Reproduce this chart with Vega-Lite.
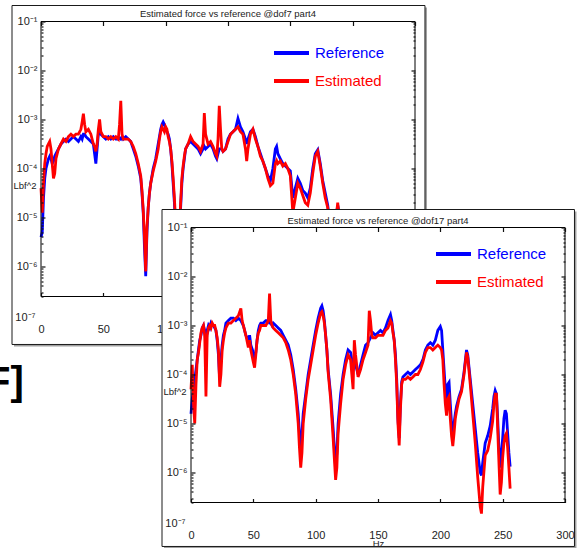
{
"$schema": "https://vega.github.io/schema/vega-lite/v6.json",
"padding": {"left": -14, "top": 4.5, "right": 0, "bottom": 0},
"autosize": {"type": "pad"},
"background": "white",
"datasets": {
"c1": [
{"f":0,"r":0.398e-5,"e":0.398e-4},{"f":1,"r":0.501e-5,"e":0.126e-4},{"f":2,"r":0.251e-4,"e":0.501e-4},{"f":3,"r":0.631e-4,"e":0.126e-3},{"f":4,"r":1e-4,"e":0.2e-3},{"f":5,"r":0.126e-3,"e":0.282e-3},{"f":6,"r":0.158e-3,"e":0.316e-3},{"f":7,"r":0.178e-3,"e":0.355e-3},{"f":8,"r":0.158e-3,"e":0.251e-3},{"f":9,"r":0.126e-3,"e":0.126e-3},{"f":10,"r":0.141e-3,"e":0.631e-4},{"f":11,"r":0.178e-3,"e":0.794e-4},{"f":12,"r":0.2e-3,"e":0.158e-3},{"f":14,"r":0.251e-3,"e":0.251e-3},{"f":16,"r":0.316e-3,"e":0.316e-3},{"f":18,"r":0.355e-3,"e":0.398e-3},{"f":20,"r":0.398e-3,"e":0.355e-3},{"f":22,"r":0.355e-3,"e":0.447e-3},{"f":24,"r":0.398e-3,"e":0.501e-3},{"f":26,"r":0.447e-3,"e":0.447e-3},{"f":28,"r":0.398e-3,"e":0.501e-3},{"f":30,"r":0.355e-3,"e":0.501e-3},{"f":32,"r":0.447e-3,"e":0.631e-3},{"f":33,"r":0.398e-3,"e":0.891e-3},{"f":34,"r":0.501e-3,"e":0.132e-2},{"f":35,"r":0.501e-3,"e":0.794e-3},{"f":36,"r":0.447e-3,"e":0.562e-3},{"f":38,"r":0.398e-3,"e":0.631e-3},{"f":40,"r":0.355e-3,"e":0.501e-3},{"f":42,"r":0.316e-3,"e":0.316e-3},{"f":43,"r":0.2e-3,"e":0.282e-3},{"f":44,"r":0.126e-3,"e":0.224e-3},{"f":45,"r":0.251e-3,"e":0.316e-3},{"f":46,"r":0.501e-3,"e":0.631e-3},{"f":47,"r":0.631e-3,"e":1e-3},{"f":48,"r":0.501e-3,"e":0.562e-3},{"f":50,"r":0.447e-3,"e":0.447e-3},{"f":52,"r":0.398e-3,"e":0.447e-3},{"f":54,"r":0.447e-3,"e":0.398e-3},{"f":56,"r":0.398e-3,"e":0.447e-3},{"f":58,"r":0.447e-3,"e":0.398e-3},{"f":60,"r":0.398e-3,"e":0.447e-3},{"f":62,"r":0.398e-3,"e":0.398e-3},{"f":63,"r":0.417e-3,"e":0.794e-3},{"f":64,"r":0.398e-3,"e":0.24e-2},{"f":65,"r":0.447e-3,"e":0.501e-3},{"f":66,"r":0.398e-3,"e":0.398e-3},{"f":68,"r":0.447e-3,"e":0.398e-3},{"f":70,"r":0.398e-3,"e":0.398e-3},{"f":72,"r":0.355e-3,"e":0.355e-3},{"f":74,"r":0.251e-3,"e":0.282e-3},{"f":76,"r":0.178e-3,"e":0.2e-3},{"f":78,"r":0.112e-3,"e":0.126e-3},{"f":80,"r":0.631e-4,"e":0.708e-4},{"f":81,"r":0.316e-4,"e":0.355e-4},{"f":82,"r":0.126e-4,"e":0.141e-4},{"f":83,"r":0.251e-5,"e":0.398e-5},{"f":84,"r":0.631e-6,"e":0.794e-6},{"f":85,"r":0.501e-5,"e":0.631e-5},{"f":86,"r":0.158e-4,"e":0.158e-4},{"f":87,"r":0.316e-4,"e":0.316e-4},{"f":88,"r":0.501e-4,"e":0.501e-4},{"f":90,"r":1e-4,"e":0.891e-4},{"f":92,"r":0.158e-3,"e":0.141e-3},{"f":94,"r":0.316e-3,"e":0.251e-3},{"f":95,"r":0.447e-3,"e":0.398e-3},{"f":96,"r":0.631e-3,"e":0.562e-3},{"f":97,"r":0.794e-3,"e":0.708e-3},{"f":98,"r":0.891e-3,"e":0.631e-3},{"f":99,"r":0.794e-3,"e":0.562e-3},{"f":100,"r":0.631e-3,"e":0.708e-3},{"f":101,"r":0.562e-3,"e":0.631e-3},{"f":102,"r":0.501e-3,"e":0.447e-3},{"f":103,"r":0.398e-3,"e":0.355e-3},{"f":104,"r":0.251e-3,"e":0.251e-3},{"f":105,"r":0.126e-3,"e":0.141e-3},{"f":106,"r":0.501e-4,"e":0.631e-4},{"f":107,"r":0.2e-4,"e":0.251e-4},{"f":108,"r":0.631e-5,"e":0.794e-5},{"f":109,"r":0.2e-5,"e":0.251e-5},{"f":110,"r":1e-6,"e":0.126e-5},{"f":111,"r":0.398e-5,"e":0.501e-5},{"f":112,"r":0.158e-4,"e":0.2e-4},{"f":113,"r":0.501e-4,"e":0.631e-4},{"f":114,"r":1e-4,"e":0.112e-3},{"f":115,"r":0.158e-3,"e":0.178e-3},{"f":116,"r":0.251e-3,"e":0.251e-3},{"f":118,"r":0.316e-3,"e":0.316e-3},{"f":120,"r":0.355e-3,"e":0.447e-3},{"f":122,"r":0.316e-3,"e":0.355e-3},{"f":124,"r":0.282e-3,"e":0.316e-3},{"f":126,"r":0.251e-3,"e":0.282e-3},{"f":128,"r":0.2e-3,"e":0.224e-3},{"f":130,"r":0.251e-3,"e":0.316e-3},{"f":131,"r":0.282e-3,"e":0.135e-2},{"f":132,"r":0.251e-3,"e":0.501e-3},{"f":134,"r":0.282e-3,"e":0.316e-3},{"f":136,"r":0.316e-3,"e":0.355e-3},{"f":138,"r":0.251e-3,"e":0.282e-3},{"f":140,"r":0.178e-3,"e":0.2e-3},{"f":141,"r":0.158e-3,"e":0.178e-3},{"f":142,"r":0.2e-3,"e":0.398e-3},{"f":143,"r":0.251e-3,"e":0.191e-2},{"f":144,"r":0.251e-3,"e":0.631e-3},{"f":145,"r":0.251e-3,"e":0.251e-3},{"f":146,"r":0.224e-3,"e":0.224e-3},{"f":148,"r":0.251e-3,"e":0.251e-3},{"f":150,"r":0.398e-3,"e":0.355e-3},{"f":152,"r":0.501e-3,"e":0.501e-3},{"f":154,"r":0.562e-3,"e":0.562e-3},{"f":156,"r":0.631e-3,"e":0.631e-3},{"f":158,"r":0.105e-2,"e":0.708e-3},{"f":160,"r":0.708e-3,"e":0.562e-3},{"f":162,"r":0.562e-3,"e":0.501e-3},{"f":164,"r":0.398e-3,"e":0.251e-3},{"f":165,"r":0.316e-3,"e":0.141e-3},{"f":166,"r":0.398e-3,"e":0.251e-3},{"f":168,"r":0.562e-3,"e":0.501e-3},{"f":170,"r":0.631e-3,"e":0.631e-3},{"f":172,"r":0.447e-3,"e":0.398e-3},{"f":174,"r":0.282e-3,"e":0.282e-3},{"f":176,"r":0.2e-3,"e":0.178e-3},{"f":178,"r":0.141e-3,"e":0.141e-3},{"f":180,"r":1e-4,"e":1e-4},{"f":182,"r":0.708e-4,"e":0.631e-4},{"f":184,"r":0.562e-4,"e":0.447e-4},{"f":186,"r":1e-4,"e":0.501e-4},{"f":188,"r":0.251e-3,"e":0.126e-3},{"f":189,"r":0.282e-3,"e":0.145e-3},{"f":190,"r":0.2e-3,"e":0.126e-3},{"f":192,"r":0.158e-3,"e":0.141e-3},{"f":194,"r":0.126e-3,"e":0.112e-3},{"f":196,"r":0.112e-3,"e":0.126e-3},{"f":198,"r":1e-4,"e":1e-4},{"f":200,"r":0.891e-4,"e":0.708e-4},{"f":202,"r":0.251e-4,"e":0.126e-4},{"f":204,"r":0.398e-4,"e":0.251e-4},{"f":206,"r":0.631e-4,"e":0.501e-4},{"f":208,"r":0.501e-4,"e":0.398e-4},{"f":210,"r":0.355e-4,"e":0.282e-4},{"f":212,"r":0.316e-4,"e":0.2e-4},{"f":214,"r":0.251e-4,"e":0.178e-4},{"f":216,"r":0.398e-4,"e":0.316e-4},{"f":218,"r":1e-4,"e":0.794e-4},{"f":220,"r":0.2e-3,"e":0.178e-3},{"f":222,"r":0.24e-3,"e":0.224e-3},{"f":224,"r":0.126e-3,"e":0.112e-3},{"f":226,"r":0.562e-4,"e":0.501e-4},{"f":228,"r":0.316e-4,"e":0.251e-4},{"f":230,"r":0.178e-4,"e":0.158e-4},{"f":232,"r":0.631e-5,"e":0.501e-5},{"f":234,"r":0.316e-5,"e":0.251e-5},{"f":236,"r":0.794e-5,"e":0.631e-5},{"f":238,"r":0.178e-4,"e":0.2e-4},{"f":240,"r":1e-5,"e":0.631e-5},{"f":242,"r":0.501e-5,"e":0.316e-5},{"f":244,"r":0.251e-5,"e":0.158e-5},{"f":246,"r":0.501e-5,"e":0.316e-5},{"f":248,"r":0.316e-5,"e":0.158e-5},{"f":250,"r":0.501e-5,"e":0.251e-5},{"f":252,"r":0.398e-5,"e":0.251e-5},{"f":254,"r":0.251e-5,"e":0.126e-5},{"f":256,"r":0.2e-5,"e":1e-6}
],
"c2": [
{"f":0,"r":0.158e-4,"e":0.501e-4},{"f":1,"r":0.316e-4,"e":0.158e-3},{"f":2,"r":0.501e-4,"e":0.251e-4},{"f":3,"r":0.794e-4,"e":1e-5},{"f":4,"r":0.126e-3,"e":0.631e-4},{"f":5,"r":0.2e-3,"e":0.2e-3},{"f":6,"r":0.316e-3,"e":0.282e-3},{"f":7,"r":0.501e-3,"e":0.447e-3},{"f":8,"r":0.631e-3,"e":0.708e-3},{"f":9,"r":0.891e-3,"e":0.891e-3},{"f":10,"r":1e-3,"e":1e-3},{"f":11,"r":0.794e-3,"e":0.631e-3},{"f":12,"r":0.398e-3,"e":0.355e-4},{"f":13,"r":0.794e-3,"e":0.631e-3},{"f":14,"r":1e-3,"e":0.891e-3},{"f":15,"r":0.891e-3,"e":1e-3},{"f":16,"r":0.112e-2,"e":0.891e-3},{"f":17,"r":1e-3,"e":0.112e-2},{"f":18,"r":1e-3,"e":1e-3},{"f":19,"r":0.891e-3,"e":1e-3},{"f":20,"r":0.794e-3,"e":0.794e-3},{"f":21,"r":0.501e-3,"e":0.562e-3},{"f":22,"r":0.251e-3,"e":0.316e-3},{"f":23,"r":0.794e-4,"e":0.562e-4},{"f":24,"r":0.2e-3,"e":1e-4},{"f":25,"r":0.398e-3,"e":0.316e-3},{"f":26,"r":0.631e-3,"e":0.501e-3},{"f":27,"r":0.794e-3,"e":0.708e-3},{"f":28,"r":0.112e-2,"e":0.891e-3},{"f":30,"r":0.126e-2,"e":0.112e-2},{"f":32,"r":0.141e-2,"e":0.112e-2},{"f":34,"r":0.141e-2,"e":0.126e-2},{"f":36,"r":0.126e-2,"e":0.141e-2},{"f":38,"r":0.141e-2,"e":0.158e-2},{"f":40,"r":0.126e-2,"e":0.224e-2},{"f":41,"r":0.112e-2,"e":0.126e-2},{"f":42,"r":1e-3,"e":1e-3},{"f":44,"r":0.631e-3,"e":0.631e-3},{"f":46,"r":0.501e-3,"e":0.355e-3},{"f":47,"r":0.631e-3,"e":0.501e-3},{"f":48,"r":0.398e-3,"e":0.316e-3},{"f":50,"r":0.282e-3,"e":0.178e-3},{"f":51,"r":0.2e-3,"e":0.138e-3},{"f":52,"r":0.282e-3,"e":0.251e-3},{"f":53,"r":0.501e-3,"e":0.501e-3},{"f":54,"r":0.794e-3,"e":0.708e-3},{"f":55,"r":1e-3,"e":0.794e-3},{"f":56,"r":0.112e-2,"e":1e-3},{"f":58,"r":0.112e-2,"e":1e-3},{"f":60,"r":0.126e-2,"e":1e-3},{"f":62,"r":0.126e-2,"e":0.126e-2},{"f":63,"r":0.112e-2,"e":0.447e-2},{"f":64,"r":0.112e-2,"e":0.126e-2},{"f":65,"r":1e-3,"e":1e-3},{"f":66,"r":0.112e-2,"e":0.891e-3},{"f":68,"r":1e-3,"e":0.794e-3},{"f":70,"r":0.891e-3,"e":0.708e-3},{"f":72,"r":0.794e-3,"e":0.631e-3},{"f":74,"r":0.631e-3,"e":0.562e-3},{"f":76,"r":0.501e-3,"e":0.447e-3},{"f":78,"r":0.398e-3,"e":0.316e-3},{"f":80,"r":0.251e-3,"e":0.2e-3},{"f":82,"r":0.126e-3,"e":1e-4},{"f":84,"r":0.501e-4,"e":0.398e-4},{"f":86,"r":0.158e-4,"e":1e-5},{"f":87,"r":0.631e-5,"e":0.316e-5},{"f":88,"r":0.316e-5,"e":0.126e-5},{"f":89,"r":0.631e-5,"e":0.251e-5},{"f":90,"r":0.158e-4,"e":1e-5},{"f":92,"r":0.398e-4,"e":0.316e-4},{"f":94,"r":1e-4,"e":0.794e-4},{"f":96,"r":0.2e-3,"e":0.158e-3},{"f":98,"r":0.398e-3,"e":0.316e-3},{"f":100,"r":0.794e-3,"e":0.631e-3},{"f":102,"r":0.141e-2,"e":0.112e-2},{"f":104,"r":0.224e-2,"e":0.178e-2},{"f":105,"r":0.251e-2,"e":0.191e-2},{"f":106,"r":0.2e-2,"e":0.158e-2},{"f":107,"r":0.126e-2,"e":0.112e-2},{"f":108,"r":0.631e-3,"e":0.631e-3},{"f":109,"r":0.316e-3,"e":0.316e-3},{"f":110,"r":0.126e-3,"e":0.112e-3},{"f":112,"r":0.398e-4,"e":0.316e-4},{"f":114,"r":0.794e-5,"e":0.501e-5},{"f":116,"r":0.126e-5,"e":0.708e-6},{"f":117,"r":0.251e-5,"e":0.126e-5},{"f":118,"r":1e-5,"e":0.631e-5},{"f":120,"r":0.398e-4,"e":0.251e-4},{"f":122,"r":1e-4,"e":0.794e-4},{"f":124,"r":0.2e-3,"e":0.158e-3},{"f":126,"r":0.316e-3,"e":0.251e-3},{"f":128,"r":0.282e-3,"e":0.2e-3},{"f":129,"r":0.2e-3,"e":1e-4},{"f":130,"r":0.126e-3,"e":0.501e-4},{"f":131,"r":0.2e-3,"e":0.501e-3},{"f":132,"r":0.158e-3,"e":0.251e-3},{"f":134,"r":1e-4,"e":0.891e-4},{"f":136,"r":0.158e-3,"e":0.126e-3},{"f":138,"r":0.251e-3,"e":0.2e-3},{"f":140,"r":0.398e-3,"e":0.282e-3},{"f":142,"r":0.447e-3,"e":0.398e-3},{"f":143,"r":0.501e-3,"e":0.2e-2},{"f":144,"r":0.562e-3,"e":0.126e-2},{"f":145,"r":0.631e-3,"e":0.631e-3},{"f":146,"r":0.708e-3,"e":0.562e-3},{"f":148,"r":0.631e-3,"e":0.562e-3},{"f":150,"r":0.708e-3,"e":0.631e-3},{"f":152,"r":0.794e-3,"e":0.631e-3},{"f":154,"r":0.708e-3,"e":0.631e-3},{"f":156,"r":0.891e-3,"e":0.794e-3},{"f":158,"r":0.126e-2,"e":0.891e-3},{"f":160,"r":0.166e-2,"e":0.126e-2},{"f":161,"r":0.126e-2,"e":0.112e-2},{"f":162,"r":0.794e-3,"e":0.708e-3},{"f":163,"r":0.501e-3,"e":0.501e-3},{"f":164,"r":0.251e-3,"e":0.2e-3},{"f":165,"r":0.794e-4,"e":0.631e-4},{"f":166,"r":0.126e-4,"e":1e-5},{"f":167,"r":0.501e-5,"e":0.355e-5},{"f":168,"r":0.251e-4,"e":0.2e-4},{"f":169,"r":0.708e-4,"e":0.631e-4},{"f":170,"r":0.891e-4,"e":0.794e-4},{"f":172,"r":1e-4,"e":0.794e-4},{"f":174,"r":0.112e-3,"e":0.891e-4},{"f":176,"r":1e-4,"e":0.794e-4},{"f":178,"r":0.112e-3,"e":0.891e-4},{"f":180,"r":0.126e-3,"e":1e-4},{"f":182,"r":0.141e-3,"e":1e-4},{"f":184,"r":0.158e-3,"e":0.126e-3},{"f":186,"r":0.2e-3,"e":0.178e-3},{"f":188,"r":0.316e-3,"e":0.282e-3},{"f":190,"r":0.398e-3,"e":0.355e-3},{"f":192,"r":0.447e-3,"e":0.355e-3},{"f":194,"r":0.398e-3,"e":0.316e-3},{"f":196,"r":0.501e-3,"e":0.355e-3},{"f":198,"r":0.794e-3,"e":0.398e-3},{"f":200,"r":0.955e-3,"e":0.355e-3},{"f":201,"r":0.794e-3,"e":0.316e-3},{"f":202,"r":0.316e-3,"e":0.2e-3},{"f":203,"r":0.126e-3,"e":0.631e-4},{"f":204,"r":0.501e-4,"e":0.251e-4},{"f":205,"r":0.316e-4,"e":0.145e-4},{"f":206,"r":0.631e-4,"e":0.316e-4},{"f":207,"r":0.692e-4,"e":0.355e-4},{"f":208,"r":0.251e-4,"e":0.126e-4},{"f":209,"r":1e-5,"e":0.562e-5},{"f":210,"r":0.55e-5,"e":0.347e-5},{"f":211,"r":1e-5,"e":0.631e-5},{"f":212,"r":0.158e-4,"e":0.126e-4},{"f":213,"r":0.224e-4,"e":0.178e-4},{"f":215,"r":0.355e-4,"e":0.316e-4},{"f":217,"r":0.501e-4,"e":0.447e-4},{"f":219,"r":0.112e-3,"e":1e-4},{"f":221,"r":0.316e-3,"e":0.282e-3},{"f":222,"r":0.251e-3,"e":0.224e-3},{"f":224,"r":0.794e-4,"e":0.631e-4},{"f":226,"r":0.251e-4,"e":0.158e-4},{"f":228,"r":0.794e-5,"e":0.398e-5},{"f":230,"r":0.251e-5,"e":0.794e-6},{"f":232,"r":1e-6,"e":0.2e-6},{"f":233,"r":0.871e-6,"e":0.145e-6},{"f":234,"r":0.158e-5,"e":0.501e-6},{"f":236,"r":0.398e-5,"e":0.224e-5},{"f":238,"r":0.562e-5,"e":0.282e-5},{"f":240,"r":0.891e-5,"e":0.501e-5},{"f":242,"r":0.2e-4,"e":0.112e-4},{"f":243,"r":0.355e-4,"e":0.251e-4},{"f":244,"r":0.468e-4,"e":0.398e-4},{"f":245,"r":0.398e-4,"e":0.398e-4},{"f":246,"r":0.126e-4,"e":0.794e-5},{"f":247,"r":0.316e-5,"e":0.158e-5},{"f":248,"r":0.126e-5,"e":0.355e-6},{"f":249,"r":0.251e-5,"e":0.631e-6},{"f":250,"r":0.501e-5,"e":0.2e-5},{"f":251,"r":0.126e-4,"e":0.398e-5},{"f":252,"r":0.186e-4,"e":0.562e-5},{"f":253,"r":0.158e-4,"e":0.631e-5},{"f":254,"r":0.631e-5,"e":0.316e-5},{"f":255,"r":0.251e-5,"e":0.126e-5},{"f":256,"r":0.132e-5,"e":0.468e-6}
]
},
"vconcat": [
{
"width": 374, "height": 206,
"title": {"text": "Estimated force vs reference @dof7 part4", "offset": -13.25},
"data": {"name": "c1"},
"layer": [
{"data": {"values": [{}]}, "mark": {"type": "rect", "fill": "#a0a0a0", "xOffset": 2, "x2Offset": 2, "yOffset": 2, "y2Offset": 2},
 "encoding": {
  "x": {"datum": -23.26, "type": "quantitative", "scale": {"domain": [0, 300], "nice": false, "zero": false}, "axis": {"orient": "bottom", "offset": 69, "zindex": 1, "domain": false, "tickColor": "#111111", "tickWidth": 1.2, "values": [0,50,100,150,200,250,300], "tickSize": -4, "labelPadding": 31, "title": null}},
  "x2": {"datum": 308},
  "y": {"datum": 0.212, "type": "quantitative", "scale": {"type": "log", "domain": [2.44e-7, 0.1], "range": [275, 0], "nice": false}, "axis": {"orient": "left", "zindex": 1, "domain": false, "tickColor": "#111111", "tickWidth": 1.2, "values": [0.1,0.09,0.08,0.07,0.06,0.05,0.04,0.03,0.02,0.01,0.009,0.008,0.007,0.006,0.005,0.004,0.003,0.002,0.001,9e-4,8e-4,7e-4,6e-4,5e-4,4e-4,3e-4,2e-4,1e-4,9e-5,8e-5,7e-5,6e-5,5e-5,4e-5,3e-5,2e-5,1e-5,9e-6,8e-6,7e-6,6e-6,5e-6,4e-6,3e-6,2e-6,1e-6,9e-7,8e-7,7e-7,6e-7,5e-7,4e-7,3e-7,2.44e-7], "labelExpr": "abs(log(datum.value)/LN10-round(log(datum.value)/LN10))<0.01 ? '10'+['','⁻¹','⁻²','⁻³','⁻⁴','⁻⁵','⁻⁶','⁻⁷'][-round(log(datum.value)/LN10)] : (datum.value<2.5e-7 ? '10⁻⁷' : '')", "tickSize": {"condition": {"test": "abs(log(datum.value)/LN10-round(log(datum.value)/LN10))<0.01", "value": -4}, "value": -2}, "labelPadding": 8, "labelOffset": {"condition": {"test": "datum.value<2.5e-7", "value": 21}, "value": 0}, "title": "Lbf^2", "titleAngle": 0, "titleAlign": "left", "titleBaseline": "middle", "titleX": -28, "titleY": 164}},
  "y2": {"datum": 2.56e-8}
 }},
{"data": {"values": [{}]}, "mark": {"type": "rect", "fill": "white", "stroke": "#1a1a1a", "strokeWidth": 1},
 "encoding": {
  "x": {"datum": -23.26, "type": "quantitative", "scale": {"domain": [0, 300], "nice": false, "zero": false}, "axis": {"orient": "top", "zindex": 1, "domain": false, "tickColor": "#111111", "tickWidth": 1.2, "values": [0,50,100,150,200,250,300], "tickSize": -4, "labels": false, "title": null}},
  "x2": {"datum": 308},
  "y": {"datum": 0.212, "type": "quantitative", "scale": {"type": "log", "domain": [2.44e-7, 0.1], "range": [275, 0], "nice": false}, "axis": {"orient": "right", "zindex": 1, "domain": false, "tickColor": "#111111", "tickWidth": 1.2, "values": [0.1,0.09,0.08,0.07,0.06,0.05,0.04,0.03,0.02,0.01,0.009,0.008,0.007,0.006,0.005,0.004,0.003,0.002,0.001,9e-4,8e-4,7e-4,6e-4,5e-4,4e-4,3e-4,2e-4,1e-4,9e-5,8e-5,7e-5,6e-5,5e-5,4e-5,3e-5,2e-5,1e-5,9e-6,8e-6,7e-6,6e-6,5e-6,4e-6,3e-6,2e-6,1e-6,9e-7,8e-7,7e-7,6e-7,5e-7,4e-7,3e-7], "labels": false, "tickSize": {"condition": {"test": "abs(log(datum.value)/LN10-round(log(datum.value)/LN10))<0.01", "value": -4}, "value": -2}, "title": null}},
  "y2": {"datum": 2.56e-8}
 }},
{"mark": {"type": "line", "strokeWidth": 2.8, "clip": false},
 "encoding": {
  "x": {"field": "f", "type": "quantitative", "scale": {"domain": [0, 300], "nice": false, "zero": false}, "axis": null},
  "y": {"field": "r", "type": "quantitative", "scale": {"type": "log", "domain": [2.44e-7, 0.1], "range": [275, 0], "nice": false}, "axis": null},
  "color": {"datum": "Reference", "type": "nominal", "scale": {"domain": ["Reference", "Estimated"], "range": ["#0000ff", "#ff0000"]},
   "legend": {"orient": "none", "legendX": 231, "legendY": 12, "title": null, "symbolType": "stroke", "symbolSize": 1225, "symbolStrokeWidth": 4, "labelFontSize": 15, "labelFont": "Liberation Sans", "labelOffset": 4, "rowPadding": 0, "padding": 0,
    "encode": {"labels": {"update": {"fill": {"signal": "datum.value === 'Reference' ? '#0000ff' : '#ff0000'"}}}}}}
 }},
{"mark": {"type": "line", "strokeWidth": 2.8, "clip": false},
 "encoding": {
  "x": {"field": "f", "type": "quantitative", "scale": {"domain": [0, 300], "nice": false, "zero": false}, "axis": null},
  "y": {"field": "e", "type": "quantitative", "scale": {"type": "log", "domain": [2.44e-7, 0.1], "range": [275, 0], "nice": false}, "axis": null},
  "color": {"datum": "Estimated", "type": "nominal"}
 }},
{"data": {"values": [{}]}, "mark": {"type": "rect", "fill": null, "fillOpacity": 0, "stroke": "#000000", "strokeWidth": 1},
 "encoding": {
  "x": {"datum": 0, "type": "quantitative", "scale": {"domain": [0, 300], "nice": false, "zero": false}, "axis": null},
  "x2": {"datum": 300},
  "y": {"datum": 0.1, "type": "quantitative", "scale": {"type": "log", "domain": [2.44e-7, 0.1], "range": [275, 0], "nice": false}, "axis": null},
  "y2": {"datum": 2.44e-7}
 }}
],
"resolve": {"axis": {"x": "independent", "y": "independent"}}
},
{
"hconcat": [
{"width": 150, "height": 10, "data": {"values": []}, "mark": "point",
 "title": {"text": "F]", "orient": "bottom", "anchor": "start", "frame": "group", "font": "Liberation Sans", "fontSize": 40, "fontWeight": "bold", "color": "#000000", "baseline": "alphabetic", "offset": 157, "dx": -55}},
{
"width": 374, "height": 275,
"title": {"text": "Estimated force vs reference @dof17 part4", "offset": -16.25},
"data": {"name": "c2"},
"layer": [
{"data": {"values": [{}]}, "mark": {"type": "rect", "fill": "#a0a0a0", "xOffset": 2, "x2Offset": 2, "yOffset": 2, "y2Offset": 2},
 "encoding": {
  "x": {"datum": -23.26, "type": "quantitative", "scale": {"domain": [0, 300], "nice": false, "zero": false}, "axis": {"orient": "bottom", "zindex": 1, "domain": false, "tickColor": "#111111", "tickWidth": 1.2, "values": [0,50,100,150,200,250,300], "tickSize": -4, "labelPadding": 31, "title": "Hz", "titleY": 41, "titleBaseline": "middle"}},
  "x2": {"datum": 307.6},
  "y": {"datum": 0.233, "type": "quantitative", "scale": {"type": "log", "domain": [2.44e-7, 0.1], "nice": false}, "axis": {"orient": "left", "zindex": 1, "domain": false, "tickColor": "#111111", "tickWidth": 1.2, "values": [0.1,0.09,0.08,0.07,0.06,0.05,0.04,0.03,0.02,0.01,0.009,0.008,0.007,0.006,0.005,0.004,0.003,0.002,0.001,9e-4,8e-4,7e-4,6e-4,5e-4,4e-4,3e-4,2e-4,1e-4,9e-5,8e-5,7e-5,6e-5,5e-5,4e-5,3e-5,2e-5,1e-5,9e-6,8e-6,7e-6,6e-6,5e-6,4e-6,3e-6,2e-6,1e-6,9e-7,8e-7,7e-7,6e-7,5e-7,4e-7,3e-7,2.44e-7], "labelExpr": "abs(log(datum.value)/LN10-round(log(datum.value)/LN10))<0.01 ? '10'+['','⁻¹','⁻²','⁻³','⁻⁴','⁻⁵','⁻⁶','⁻⁷'][-round(log(datum.value)/LN10)] : (datum.value<2.5e-7 ? '10⁻⁷' : '')", "tickSize": {"condition": {"test": "abs(log(datum.value)/LN10-round(log(datum.value)/LN10))<0.01", "value": -4}, "value": -2}, "labelPadding": 8, "labelOffset": {"condition": {"test": "datum.value<2.5e-7", "value": 21}, "value": 0}, "title": "Lbf^2", "titleAngle": 0, "titleAlign": "left", "titleBaseline": "middle", "titleX": -28, "titleY": 164}},
  "y2": {"datum": 3.09e-8}
 }},
{"data": {"values": [{}]}, "mark": {"type": "rect", "fill": "white", "stroke": "#1a1a1a", "strokeWidth": 1},
 "encoding": {
  "x": {"datum": -23.26, "type": "quantitative", "scale": {"domain": [0, 300], "nice": false, "zero": false}, "axis": {"orient": "top", "zindex": 1, "domain": false, "tickColor": "#111111", "tickWidth": 1.2, "values": [0,50,100,150,200,250,300], "tickSize": -4, "labels": false, "title": null}},
  "x2": {"datum": 307.6},
  "y": {"datum": 0.233, "type": "quantitative", "scale": {"type": "log", "domain": [2.44e-7, 0.1], "nice": false}, "axis": {"orient": "right", "zindex": 1, "domain": false, "tickColor": "#111111", "tickWidth": 1.2, "values": [0.1,0.09,0.08,0.07,0.06,0.05,0.04,0.03,0.02,0.01,0.009,0.008,0.007,0.006,0.005,0.004,0.003,0.002,0.001,9e-4,8e-4,7e-4,6e-4,5e-4,4e-4,3e-4,2e-4,1e-4,9e-5,8e-5,7e-5,6e-5,5e-5,4e-5,3e-5,2e-5,1e-5,9e-6,8e-6,7e-6,6e-6,5e-6,4e-6,3e-6,2e-6,1e-6,9e-7,8e-7,7e-7,6e-7,5e-7,4e-7,3e-7], "labels": false, "tickSize": {"condition": {"test": "abs(log(datum.value)/LN10-round(log(datum.value)/LN10))<0.01", "value": -4}, "value": -2}, "title": null}},
  "y2": {"datum": 3.09e-8}
 }},
{"mark": {"type": "line", "strokeWidth": 2.8, "clip": false},
 "encoding": {
  "x": {"field": "f", "type": "quantitative", "scale": {"domain": [0, 300], "nice": false, "zero": false}, "axis": null},
  "y": {"field": "r", "type": "quantitative", "scale": {"type": "log", "domain": [2.44e-7, 0.1], "nice": false}, "axis": null},
  "color": {"datum": "Reference", "type": "nominal", "scale": {"domain": ["Reference", "Estimated"], "range": ["#0000ff", "#ff0000"]},
   "legend": {"orient": "none", "legendX": 243, "legendY": 7, "title": null, "symbolType": "stroke", "symbolSize": 1225, "symbolStrokeWidth": 4, "labelFontSize": 15, "labelFont": "Liberation Sans", "labelOffset": 4, "rowPadding": 0, "padding": 0,
    "encode": {"labels": {"update": {"fill": {"signal": "datum.value === 'Reference' ? '#0000ff' : '#ff0000'"}}}}}}
 }},
{"mark": {"type": "line", "strokeWidth": 2.8, "clip": false},
 "encoding": {
  "x": {"field": "f", "type": "quantitative", "scale": {"domain": [0, 300], "nice": false, "zero": false}, "axis": null},
  "y": {"field": "e", "type": "quantitative", "scale": {"type": "log", "domain": [2.44e-7, 0.1], "nice": false}, "axis": null},
  "color": {"datum": "Estimated", "type": "nominal"}
 }},
{"data": {"values": [{}]}, "mark": {"type": "rect", "fill": null, "fillOpacity": 0, "stroke": "#000000", "strokeWidth": 1},
 "encoding": {
  "x": {"datum": 0, "type": "quantitative", "scale": {"domain": [0, 300], "nice": false, "zero": false}, "axis": null},
  "x2": {"datum": 300},
  "y": {"datum": 0.1, "type": "quantitative", "scale": {"type": "log", "domain": [2.44e-7, 0.1], "nice": false}, "axis": null},
  "y2": {"datum": 2.44e-7}
 }}
],
"resolve": {"axis": {"x": "independent", "y": "independent"}}
}
],
"spacing": 0,
"bounds": "flush",
"resolve": {"scale": {"color": "independent"}, "legend": {"color": "independent"}}
}
],
"spacing": 0,
"bounds": "flush",
"resolve": {"scale": {"color": "independent"}, "legend": {"color": "independent"}},
"config": {
"view": {"stroke": null},
"font": "Liberation Sans",
"axis": {"grid": false, "labelFont": "Liberation Sans", "labelFontSize": 11, "labelColor": "#222", "labelOverlap": false, "labelFlush": false, "labelBound": false, "titleFont": "Liberation Sans", "titleFontSize": 9.5, "titleFontWeight": "normal", "titleColor": "#222"},
"title": {"font": "Liberation Sans", "fontSize": 9.5, "fontWeight": "normal", "color": "#222"}
}
}
